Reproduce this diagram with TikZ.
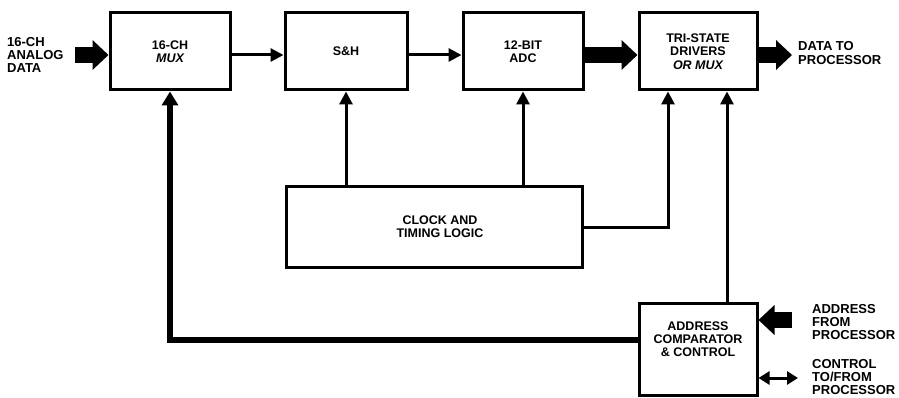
\documentclass[tikz,border=0pt]{standalone}
\usepackage{fontspec}
\setmainfont{Liberation Sans}
\usetikzlibrary{arrows.meta}
\begin{document}
\begin{tikzpicture}[x=1pt,y=-1pt,
  box/.style={draw,line width=3pt,rectangle,inner sep=0pt,align=center,
    font=\fontsize{12.5}{13.2}\selectfont\bfseries},
  lbl/.style={align=left,inner sep=0pt,font=\fontsize{13}{13.2}\selectfont\bfseries},
  thinarrow/.style={line width=3pt,-{Triangle[length=13pt,width=13pt]}},
  fatarrow/.style={line width=16pt,-{Triangle[length=16pt,width=29pt]}},
  busline/.style={line width=6pt,-{Triangle[length=14pt,width=16pt]}},
  dblarrow/.style={line width=3pt,{Triangle[length=11pt,width=13pt]}-{Triangle[length=11pt,width=13pt]}}
]
\useasboundingbox[fill=white] (0,0) rectangle (899,398);

% blocks
\node[box,minimum width=120pt,minimum height=77pt] (mux) at (170,51.5) {16-CH\\\itshape MUX};
\node[box,minimum width=122pt,minimum height=77pt] (sh) at (346,51.5) {S\&H};
\node[box,minimum width=120pt,minimum height=77pt] (adc) at (523,51.5) {12-BIT\\ADC};
\node[box,minimum width=118pt,minimum height=77pt] (tri) at (698,51.5) {TRI-STATE\\DRIVERS\\\itshape OR MUX};
\node[box,minimum width=296pt,minimum height=80pt] (clk) at (434,227) {\hspace*{12pt}CLOCK AND\\\hspace*{12pt}TIMING LOGIC};
\node[box,minimum width=118pt,minimum height=92pt] (addr) at (698,349) {ADDRESS\\COMPARATOR\\\& CONTROL\\[6pt]};

% helper coordinates
\coordinate (ya) at (0,55);
\coordinate (inA) at (75,55);
\coordinate (outA) at (792,55);
\coordinate (addrIn) at (792,320);
\coordinate (ctlEnd) at (798,378);

% labels
\node[lbl,anchor=west] (lin) at (7,55) {16-CH\\ANALOG\\DATA};
\node[lbl,anchor=west] (lout) at (798,53) {DATA TO\\PROCESSOR};
\node[lbl,anchor=west] (laddr) at (812,322) {ADDRESS\\FROM\\PROCESSOR};
\node[lbl,anchor=west] (lctl) at (812,377) {CONTROL\\TO/FROM\\PROCESSOR};

% data path
\draw[fatarrow] (inA) -- (mux.west |- ya);
\draw[thinarrow] (mux.east |- ya) -- (sh.west |- ya);
\draw[thinarrow] (sh.east |- ya) -- (adc.west |- ya);
\draw[fatarrow] (adc.east |- ya) -- (tri.west |- ya);
\draw[fatarrow] (tri.east |- ya) -- (outA);

% clock connections
\draw[thinarrow] (clk.north -| sh.south) -- (sh.south);
\draw[thinarrow] (clk.north -| adc.south) -- (adc.south);
\draw[thinarrow] (clk.east) -| ([xshift=-30pt]tri.south);

% address comparator connections
\draw[thinarrow] ([xshift=29pt]addr.north) -- ([xshift=29pt]tri.south);
\draw[busline] ([yshift=9pt]addr.west) -| (mux.south);
\draw[fatarrow] (addrIn) -- (addr.east |- addrIn);
\draw[dblarrow] (addr.east |- ctlEnd) -- (ctlEnd);
\end{tikzpicture}
\end{document}
